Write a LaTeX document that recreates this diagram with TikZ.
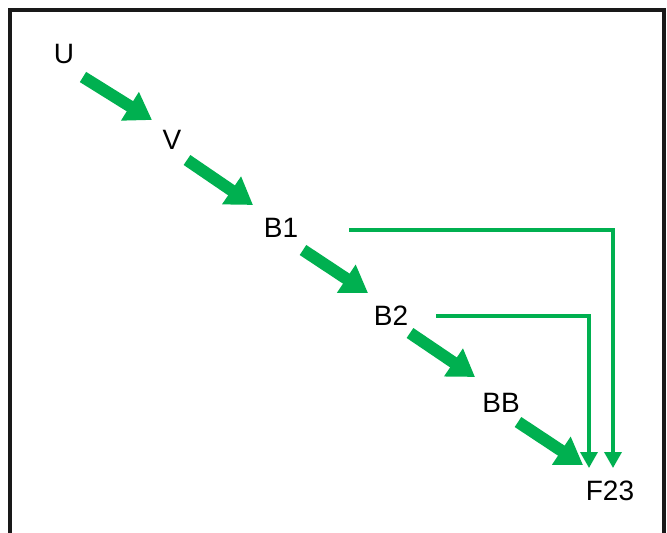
\documentclass[tikz,border=0pt]{standalone}
\usepackage{fontspec}
\setmainfont{Liberation Sans}
\usetikzlibrary{arrows.meta,calc}
\definecolor{arrgreen}{HTML}{00B050}
\tikzset{
  lbl/.style={font=\fontsize{28}{30}\selectfont, text=black, inner sep=0pt},
  bigarrow/.style={draw=arrgreen, line width=12pt, -{Triangle[length=26pt,width=32pt]}},
  thinarrow/.style={draw=arrgreen, line width=3.5pt, -{Triangle[length=16pt,width=17pt]}},
  frame/.style={draw=black!90, line width=3.5pt}
}
\begin{document}
\begin{tikzpicture}[x=1pt,y=-1pt]
\useasboundingbox (0,0) rectangle (667,533);
\draw[frame] (10,10) rectangle (664,534.5);
\node[lbl] (U) at (64,54) {U};
\node[lbl] (V) at (172,140) {V};
\node[lbl] (B1) at (281,228) {B1};
\node[lbl] (B2) at (391,316) {B2};
\node[lbl] (BB) at (501,403) {BB};
\node[lbl] (F23) at (610,491) {F23};
\draw[bigarrow] ($(U)+(19,23)$) -- ($(V)+(-20,-20)$);
\draw[bigarrow] ($(V)+(15,20)$) -- ($(B1)+(-28,-23)$);
\draw[bigarrow] ($(B1)+(22,22)$) -- ($(B2)+(-23,-23)$);
\draw[bigarrow] ($(B2)+(19,17)$) -- ($(BB)+(-26,-26)$);
\draw[bigarrow] ($(BB)+(17,19)$) -- ($(F23)+(-27,-26)$);
\draw[thinarrow] ($(B1)+(68,2)$) -| ($(F23)+(3,-23)$);
\draw[thinarrow] ($(B2)+(45,0)$) -| ($(F23)+(-21,-23)$);
\end{tikzpicture}
\end{document}
